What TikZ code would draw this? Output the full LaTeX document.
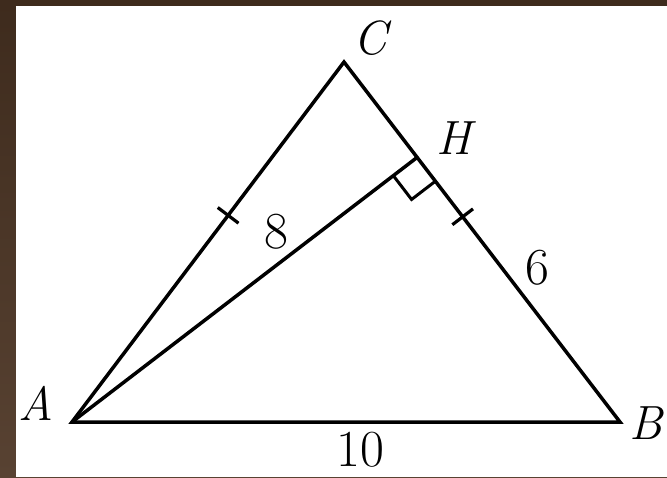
\documentclass[tikz,border=0pt]{standalone}
\usetikzlibrary{calc}
\definecolor{wood}{RGB}{62,43,29}
\definecolor{woodlight}{RGB}{88,66,50}
\tikzset{
  edge/.style={line width=3.5pt, line join=miter, line cap=round},
  lbl/.style={font=\fontsize{48}{52}\selectfont, inner sep=0pt},
  num/.style={font=\fontsize{52}{56}\selectfont, inner sep=0pt},
  tick/.style={line width=3.2pt}
}
\begin{document}
\begin{tikzpicture}[x=1pt,y=-1pt]
\useasboundingbox (0,0) rectangle (667,477);
\shade[top color=wood, bottom color=woodlight] (0,0) rectangle (667,477);
\fill[white] (16,6) rectangle (667,477);
\coordinate (A) at (72,422);
\coordinate (B) at (620,422);
\coordinate (C) at (344,62);
\coordinate (H) at ($(C)!(A)!(B)$);
\draw[edge] (A) -- (B) -- (C) -- cycle;
\draw[edge] (A) -- (H);
% right angle mark
\coordinate (R1) at ($(H)!30pt!(A)$);
\coordinate (R2) at ($(H)!30pt!(B)$);
\coordinate (R3) at ($(R1)+(R2)-(H)$);
\draw[line width=3pt] (R1) -- (R3) -- (R2);
% tick marks
\coordinate (T1) at ($(A)!0.574!(C)$);
\draw[tick] ($(T1)!13pt!90:(C)$) -- ($(T1)!13pt!-90:(C)$);
\coordinate (T2) at ($(C)!0.43!(B)$);
\draw[tick] ($(T2)!13pt!90:(B)$) -- ($(T2)!13pt!-90:(B)$);
% labels
\node[lbl] (lC) at (373,38) {\textit{C}};
\node[lbl] (lH) at (456,138) {\textit{H}};
\node[lbl] (lA) at (36,403) {\textit{A}};
\node[lbl] (lB) at (647,423) {\textit{B}};
\node[num] (l8) at (276,232) {8};
\node[num] (l6) at (537,268) {6};
\node[num] (l10) at (360,450) {10};
\end{tikzpicture}
\end{document}
